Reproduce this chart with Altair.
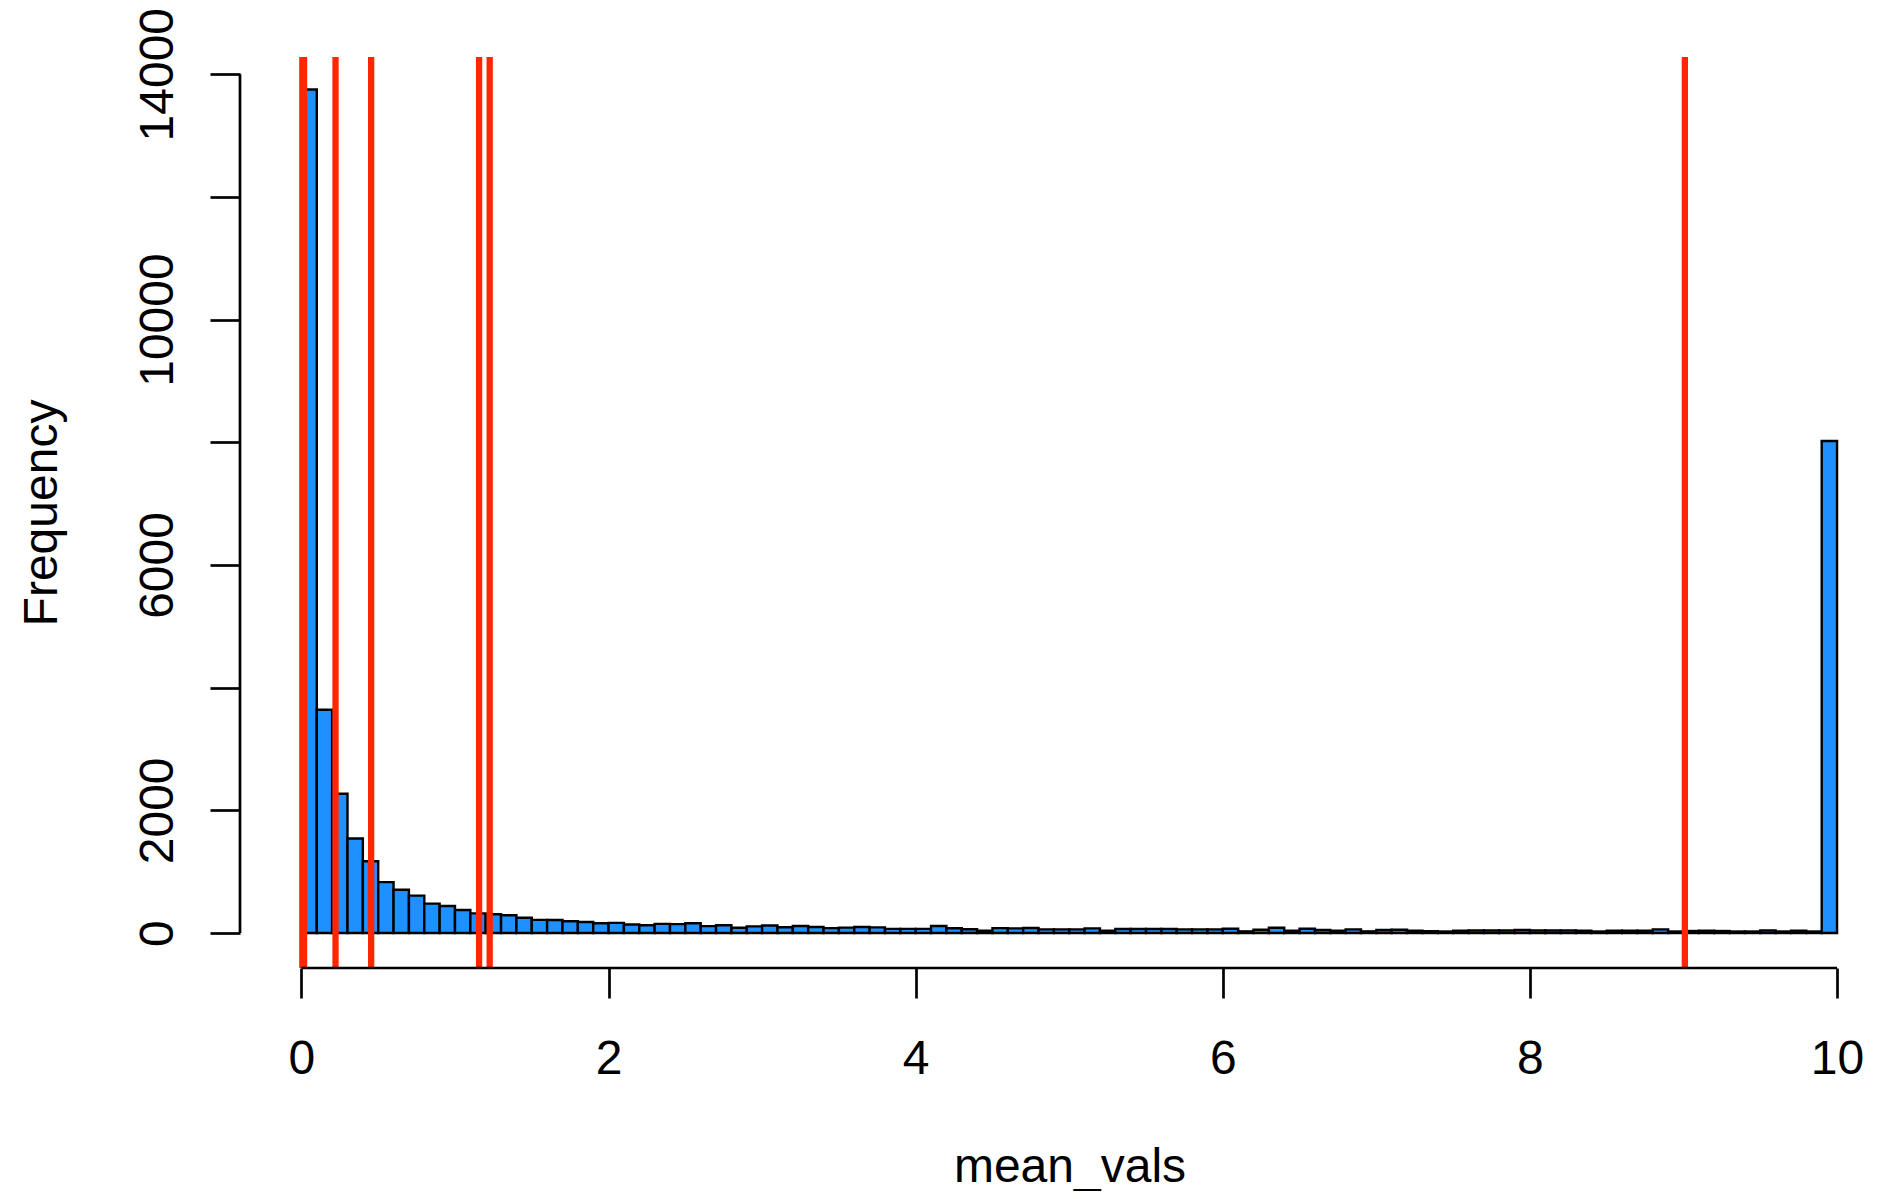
import altair as alt
import pandas as pd

# ---- data (bins of width 0.1 on [0, 10]) ----
bin_width = 0.1
counts = [
    13750, 3640, 2270, 1540, 1170, 830, 705, 610, 480, 440,      # 0.0 - 0.9
    375, 320, 305, 290, 250, 215, 212, 192, 180, 160,            # 1.0 - 1.9
    165, 140, 128, 150, 145, 160, 112, 128, 85, 108,             # 2.0 - 2.9
    122, 95, 115, 98, 80, 88, 98, 92, 68, 68,                    # 3.0 - 3.9
    68, 115, 78, 62, 40, 80, 76, 81, 60, 60,                     # 4.0 - 4.9
    60, 76, 38, 65, 65, 65, 65, 60, 60, 60,                      # 5.0 - 5.9
    70, 27, 54, 87, 38, 70, 49, 38, 60, 27,                      # 6.0 - 6.9
    49, 54, 38, 30, 25, 38, 44, 44, 44, 49,                      # 7.0 - 7.9
    44, 44, 44, 38, 25, 38, 38, 38, 60, 25,                      # 8.0 - 8.9
    33, 38, 33, 25, 25, 44, 25, 38, 25, 8020,                    # 9.0 - 9.9
]
bin_starts = [round(i * bin_width, 1) for i in range(len(counts))]
bin_ends = [round(s + bin_width, 1) for s in bin_starts]

vline_values = [0.006, 0.017, 0.222, 0.454, 1.157, 1.226, 9.009]

x_ticks = [0, 2, 4, 6, 8, 10]
y_ticks = [0, 2000, 4000, 6000, 8000, 10000, 12000, 14000]
y_tick_labels_shown = [0, 2000, 6000, 10000, 14000]

x_title = "mean_vals"
y_title = "Frequency"

x_domain = [-0.4, 10.195]
y_domain = [-570, 14280]

FONT = "Liberation Sans"
FS = 48
BAR_FILL = "#1E90FF"
RED = "#FF2600"
LW = 2.7

hist_df = pd.DataFrame({"start": bin_starts, "end": bin_ends, "count": counts,
                        "base": [0] * len(counts)})
vline_df = pd.DataFrame({"v": vline_values})
yaxis_df = pd.DataFrame({"x": [x_domain[0]], "y": [y_ticks[0]], "y2": [y_ticks[-1]]})
xaxis_df = pd.DataFrame({"y": [y_domain[0]], "x": [x_ticks[0]], "x2": [x_ticks[-1]]})

W, H = 1627, 911

xscale = alt.Scale(domain=x_domain, nice=False, zero=False)
yscale = alt.Scale(domain=y_domain, nice=False, zero=False)

shown = ",".join(str(v) for v in y_tick_labels_shown)
y_label_expr = f"indexof([{shown}], datum.value) >= 0 ? datum.label : ''"

x_axis = alt.Axis(
    values=x_ticks, domain=False, grid=False, tickSize=30, tickWidth=LW,
    tickColor="black", labelFont=FONT, labelFontSize=FS, labelColor="black",
    labelBaseline="alphabetic", labelPadding=75, labelFlush=False,
    labelOverlap=False, format="d", title=x_title, titleFont=FONT,
    titleFontSize=FS, titleFontWeight="normal", titleColor="black",
    titleX=829.5, titleY=213,
    titleAlign="center", titleBaseline="alphabetic",
)
y_axis = alt.Axis(
    values=y_ticks, domain=False, grid=False, tickSize=30, tickWidth=LW,
    tickColor="black", labelFont=FONT, labelFontSize=FS, labelColor="black",
    labelAngle=270, labelAlign="center", labelBaseline="alphabetic",
    labelPadding=38, labelFlush=False, labelOverlap=False, format="d",
    labelExpr=y_label_expr, title=y_title, titleFont=FONT, titleFontSize=FS,
    titleFontWeight="normal", titleColor="black", titleAngle=270,
    titleX=-183.3, titleY=455.5, titleAlign="center",
    titleBaseline="alphabetic",
)

bars = alt.Chart(hist_df).mark_bar(
    fill=BAR_FILL, stroke="black", strokeWidth=2.4
).encode(
    x=alt.X("start:Q", scale=xscale, axis=x_axis),
    x2="end:Q",
    y=alt.Y("count:Q", scale=yscale, axis=y_axis),
    y2="base:Q",
)

vlines = alt.Chart(vline_df).mark_rule(color=RED, strokeWidth=6.3).encode(
    x=alt.X("v:Q", scale=xscale)
)

y_axis_line = alt.Chart(yaxis_df).mark_rule(color="black", strokeWidth=LW).encode(
    x=alt.X("x:Q", scale=xscale), y=alt.Y("y:Q", scale=yscale), y2="y2:Q"
)
x_axis_line = alt.Chart(xaxis_df).mark_rule(color="black", strokeWidth=LW).encode(
    y=alt.Y("y:Q", scale=yscale), x=alt.X("x:Q", scale=xscale), x2="x2:Q"
)

chart = alt.layer(bars, vlines, y_axis_line, x_axis_line).properties(
    width=W, height=H,
    autosize=alt.AutoSizeParams(type="none"),
    padding={"left": 232, "top": 49, "right": 0, "bottom": 223},
    background="white",
).configure_view(stroke=None)

chart.save("out.html", embed_options={"renderer": "svg", "actions": False})
